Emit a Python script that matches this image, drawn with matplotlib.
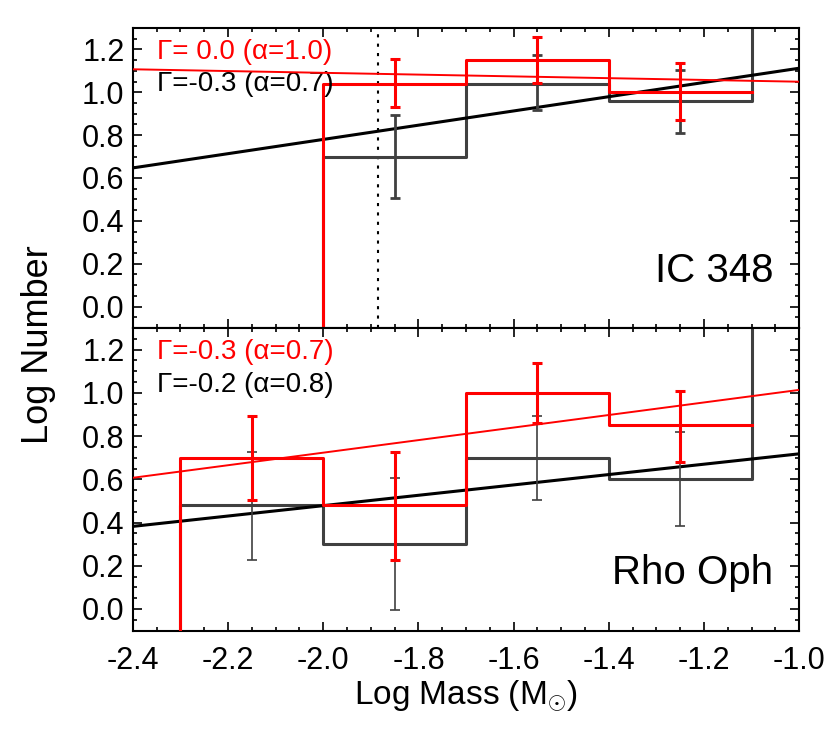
import numpy as np
import matplotlib
matplotlib.use('Agg')
import matplotlib.pyplot as plt

plt.rcParams['font.family'] = ['Liberation Sans', 'DejaVu Sans']
plt.rcParams['axes.unicode_minus'] = False
plt.rcParams['mathtext.fontset'] = 'custom'
plt.rcParams['mathtext.rm'] = 'Liberation Sans'

# IC 348 (panneau du haut)
ic_edges = [-2.0, -1.7, -1.4, -1.1]
ic_red_hist = [1.04, 1.15, 1.00]
ic_gray_hist = [0.70, 1.04, 0.96]
ic_err_x = [-1.85, -1.55, -1.25]
ic_red_hi = [1.153, 1.259, 1.135]
ic_red_lo = [0.930, 1.042, 0.871]
ic_gray_hi = [0.894, 1.173, 1.104]
ic_gray_lo = [0.505, 0.918, 0.811]
ic_red_fit = [1.107, 1.049]
ic_black_fit = [0.647, 1.112]
ic_cut = -1.885
ic_labels = ['Γ= 0.0 (α=1.0)', 'Γ=-0.3 (α=0.7)']

# Rho Oph (panneau du bas)
rho_edges = [-2.3, -2.0, -1.7, -1.4, -1.1]
rho_red_hist = [0.70, 0.48, 1.00, 0.85]
rho_gray_hist = [0.48, 0.30, 0.70, 0.60]
rho_err_x = [-2.15, -1.85, -1.55, -1.25]
rho_red_hi = [0.893, 0.728, 1.138, 1.009]
rho_red_lo = [0.506, 0.228, 0.862, 0.681]
rho_gray_hi = [0.728, 0.607, 0.893, 0.819]
rho_gray_lo = [0.228, -0.005, 0.506, 0.385]
rho_red_fit = [0.607, 1.014]
rho_black_fit = [0.382, 0.718]
rho_labels = ['Γ=-0.3 (α=0.7)', 'Γ=-0.2 (α=0.8)']

fit_x = [-2.4, -1.0]
x_ticks = [-2.4, -2.2, -2.0, -1.8, -1.6, -1.4, -1.2, -1.0]
y_ticks = [0.0, 0.2, 0.4, 0.6, 0.8, 1.0, 1.2]

RED = '#ff0000'
GRAY = '#404040'
LOW, HIGH = -1.0, 2.0  # hors du cadre


def hist_path(edges, vals, close_top):
    xs = np.repeat(edges, 2)
    ys = np.concatenate([[LOW], np.repeat(vals, 2), [HIGH]])
    if not close_top:
        xs, ys = xs[:-1], ys[:-1]
    return xs, ys


def draw_errors(ax, x, vals, lo, hi, color, lw):
    vals = np.array(vals)
    yerr = [vals - np.array(lo), np.array(hi) - vals]
    ax.errorbar(x, vals, yerr=yerr, fmt='none', ecolor=color, elinewidth=lw,
                capsize=3.5, capthick=lw, zorder=4)


def style_axis(ax):
    ax.set_xlim(-2.4, -1.0)
    ax.set_ylim(-0.1, 1.3)
    ax.set_xticks(x_ticks)
    ax.set_yticks(y_ticks)
    ax.set_xticks(np.arange(-2.4, -0.99, 0.05), minor=True)
    ax.set_yticks(np.arange(-0.1, 1.31, 0.05), minor=True)
    ax.yaxis.set_major_formatter(matplotlib.ticker.FormatStrFormatter('%.1f'))
    ax.xaxis.set_major_formatter(matplotlib.ticker.FormatStrFormatter('%.1f'))
    ax.tick_params(which='both', direction='in', top=True, right=True,
                   width=1.2, labelsize=22)
    ax.tick_params(which='major', length=6.5)
    ax.tick_params(which='minor', length=3.2)
    ax.tick_params(axis='x', pad=11)
    ax.tick_params(axis='y', pad=6)
    for sp in ax.spines.values():
        sp.set_linewidth(1.5)


def panel(ax, edges, red_hist, gray_hist, err_x, red_lo, red_hi, gray_lo, gray_hi,
          red_fit, black_fit, labels, name, gray_err_lw):
    xs, ys = hist_path(edges, gray_hist, True)
    ax.plot(xs, ys, color=GRAY, lw=2.2, zorder=2)
    draw_errors(ax, err_x, gray_hist, gray_lo, gray_hi, GRAY, gray_err_lw)
    ax.plot(fit_x, black_fit, color='black', lw=2.2, zorder=3)
    xs, ys = hist_path(edges, red_hist, False)
    ax.plot(xs, ys, color=RED, lw=2.2, zorder=3)
    draw_errors(ax, err_x, red_hist, red_lo, red_hi, RED, 2.2)
    ax.plot(fit_x, red_fit, color=RED, lw=1.4, zorder=5)
    ax.text(0.037, 0.921, labels[0], color=RED, fontsize=20, va='center',
            transform=ax.transAxes)
    ax.text(0.037, 0.812, labels[1], color='black', fontsize=20, va='center',
            transform=ax.transAxes)
    ax.text(0.961, 0.19, name, fontsize=29, ha='right', va='center',
            transform=ax.transAxes)
    style_axis(ax)


fig = plt.figure(figsize=(8.3, 7.34), dpi=100)
ax1 = fig.add_axes([0.160, 0.553, 0.803, 0.409])
ax2 = fig.add_axes([0.160, 0.141, 0.803, 0.412])

panel(ax1, ic_edges, ic_red_hist, ic_gray_hist, ic_err_x, ic_red_lo, ic_red_hi,
      ic_gray_lo, ic_gray_hi, ic_red_fit, ic_black_fit, ic_labels, 'IC 348', 2.0)
ax1.axvline(ic_cut, color='black', lw=1.5, ls=(0, (1.5, 3)), zorder=1)
ax1.tick_params(axis='x', labelbottom=False)

panel(ax2, rho_edges, rho_red_hist, rho_gray_hist, rho_err_x, rho_red_lo, rho_red_hi,
      rho_gray_lo, rho_gray_hi, rho_red_fit, rho_black_fit, rho_labels, 'Rho Oph', 1.2)

ax2.set_xlabel(r'Log Mass (M$_{\odot}$)', fontsize=24, labelpad=2)
fig.text(0.046, 0.53, 'Log Number', rotation=90, fontsize=26, ha='center', va='center')

fig.savefig('out.png', dpi=100)
